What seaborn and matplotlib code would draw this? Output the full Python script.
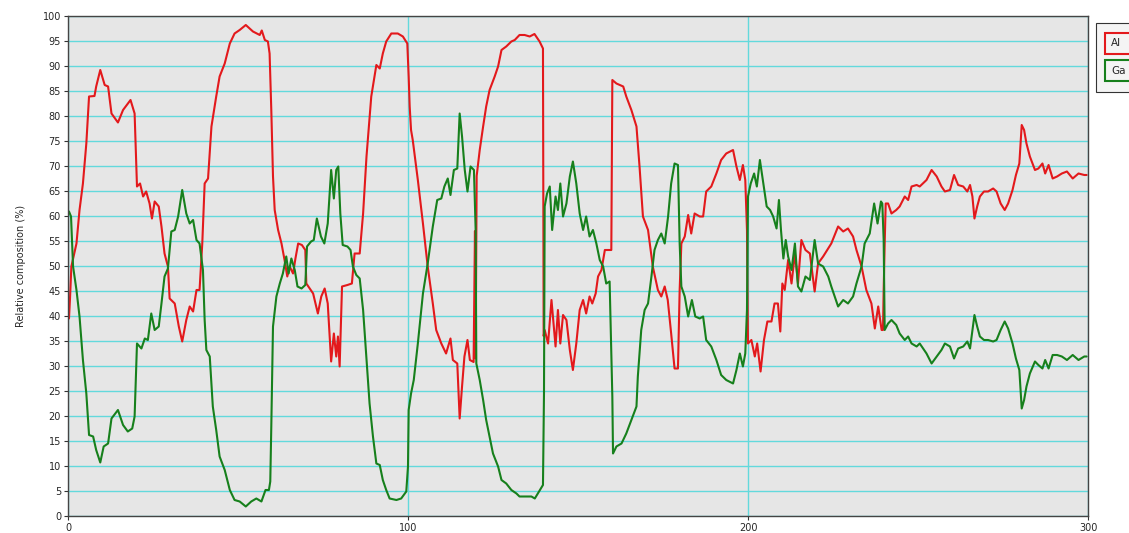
import numpy as np
import pandas as pd
import seaborn as sns
import matplotlib.pyplot as plt
from matplotlib.patches import Rectangle

# Al profile (red)
al_x = [0.3, 0.6, 1.0, 2.5, 3.4, 4.4, 5.4, 6.2, 7.8, 8.3, 9.5, 10.8, 11.8, 12.8, 14.7, 16.2, 18.4, 19.6,
        20.3, 21.2, 22.1, 23.0, 24.0, 24.7, 25.5, 26.7, 27.5, 28.4, 29.4, 29.9, 31.4, 32.6, 33.6, 34.8,
        35.8, 36.8, 37.8, 38.7, 39.5, 40.2, 41.2, 42.2, 43.6, 44.6, 46.1, 47.6, 49.0, 50.5, 52.3, 54.4,
        56.4, 57.0, 57.9, 58.8, 59.3, 59.8, 60.3, 60.8, 61.8, 62.8, 63.7, 64.5, 65.2, 66.2, 66.9, 67.7,
        68.8, 69.8, 70.1, 71.1, 72.1, 73.5, 74.5, 75.5, 76.4, 77.4, 78.2, 78.9, 79.4, 79.9, 80.6, 82.2,
        83.5, 84.3, 85.8, 86.8, 87.8, 89.2, 90.7, 91.7, 92.6, 93.6, 95.1, 97.0, 98.5, 99.8, 100.2, 100.5,
        100.9, 101.4, 102.9, 104.4, 105.8, 107.3, 108.3, 109.8, 111.2, 112.5, 113.2, 114.5, 115.2, 115.9,
        116.6, 117.5, 118.2, 119.3, 119.7, 119.9, 120.2, 121.1, 122.1, 123.0, 124.0, 125.5, 126.5, 127.5,
        128.9, 130.4, 131.4, 132.8, 134.3, 135.8, 137.2, 138.7, 139.7, 139.9, 140.2, 141.2, 142.2, 143.4,
        144.1, 144.8, 145.6, 146.6, 147.6, 148.5, 149.5, 150.5, 151.5, 152.4, 153.4, 154.2, 155.2, 155.9,
        156.9, 157.9, 159.8, 160.1, 161.3, 163.3, 164.2, 165.7, 167.2, 168.1, 169.1, 170.6, 172.0, 173.5,
        174.5, 175.5, 176.4, 177.4, 178.4, 179.4, 179.9, 180.4, 181.4, 182.4, 183.3, 184.3, 185.8, 186.8,
        187.7, 189.2, 190.7, 192.1, 193.6, 195.6, 196.6, 197.6, 198.5, 199.2, 199.7, 200.0, 201.0, 202.0,
        202.7, 203.7, 204.7, 205.7, 206.9, 207.8, 208.8, 209.5, 210.1, 210.8, 211.8, 212.8, 213.8, 214.7,
        215.7, 216.9, 218.2, 219.6, 220.6, 222.1, 223.6, 224.5, 226.5, 228.0, 229.4, 230.9, 231.9, 233.4,
        234.8, 236.3, 237.3, 238.3, 239.3, 239.7, 239.9, 240.2, 240.5, 241.2, 242.2, 243.6, 244.6, 246.1,
        247.1, 248.1, 249.6, 250.5, 252.5, 254.0, 255.5, 256.9, 257.9, 259.4, 260.6, 261.8, 263.3, 264.5,
        265.3, 266.0, 266.6, 267.4, 268.2, 269.4, 270.6, 272.1, 273.1, 274.3, 275.5, 276.5, 277.8, 278.8,
        279.8, 280.5, 281.2, 281.9, 282.9, 284.4, 285.4, 286.6, 287.4, 288.4, 289.6, 290.9, 292.3, 293.8,
        295.5, 297.2, 298.9, 299.6]
al_y = [39.5, 43.5, 49.9, 54.5, 61.2, 66.5, 74.5, 83.9, 84.0, 85.9, 89.2, 86.2, 85.9, 80.5, 78.7, 81.2, 83.2, 80.5,
        65.9, 66.5, 63.9, 64.9, 62.5, 59.5, 62.9, 61.9, 57.9, 52.5, 49.9, 43.5, 42.5, 37.9, 34.9, 39.2,
        41.9, 40.9, 45.2, 45.2, 54.5, 66.5, 67.5, 77.9, 83.9, 87.9, 90.5, 94.5, 96.5, 97.2, 98.2, 96.9,
        96.2, 97.1, 95.2, 94.9, 92.5, 81.2, 67.9, 61.2, 57.2, 54.5, 51.2, 47.9, 49.9, 48.5, 51.5, 54.5,
        54.2, 53.2, 46.5, 45.5, 44.5, 40.5, 43.9, 45.5, 42.5, 30.9, 36.5, 31.9, 35.9, 29.9, 45.9, 46.2,
        46.5, 52.5, 52.5, 60.5, 71.9, 83.9, 90.2, 89.5, 92.5, 94.9, 96.5, 96.5, 95.9, 94.5, 87.9, 81.9,
        77.2, 75.2, 67.2, 58.5, 49.9, 42.5, 37.2, 34.5, 32.5, 35.5, 31.2, 30.5, 19.5, 25.9,
        31.9, 35.2, 31.2, 30.8, 57.0, 31.5, 68.0, 73.2, 77.9, 81.9, 85.2, 87.9, 89.9, 93.2,
        93.9, 94.9, 95.2, 96.2, 96.2, 95.9, 96.4, 94.9, 93.5, 36.0, 37.2, 34.5, 43.2, 33.9,
        41.2, 34.5, 40.2, 39.2, 33.2, 29.2, 34.5, 41.2, 43.2, 40.5, 43.9, 42.5, 44.5, 47.9,
        49.2, 53.2, 53.2, 87.2, 86.5, 85.9, 83.9, 81.2, 77.9, 69.9, 59.9, 57.2, 49.9, 45.2,
        43.9, 45.9, 43.2, 36.5, 29.5, 29.5, 45.2, 54.5, 55.9, 60.2, 56.5, 60.5, 59.9, 59.9,
        64.9, 65.9, 68.5, 71.2, 72.5, 73.2, 69.9, 67.2, 70.2, 67.2, 57.2, 34.5, 35.2, 31.9,
        34.5, 28.9, 35.2, 38.9, 38.9, 42.5, 42.5, 36.9, 46.5, 45.2, 51.2, 46.5, 52.5, 46.5,
        55.2, 53.2, 52.5, 44.9, 50.5, 51.9, 53.5, 54.5, 57.9, 56.9, 57.5, 55.9, 53.2, 49.9,
        45.2, 42.5, 37.5, 41.9, 37.2, 37.2, 45.2, 54.5, 62.5, 62.5, 60.5, 61.2, 61.9, 63.9,
        63.2, 65.9, 66.2, 65.9, 67.2, 69.2, 67.9, 65.9, 64.9, 65.2, 68.2, 66.2, 65.9, 64.9,
        66.2, 63.9, 59.5, 61.9, 63.9, 64.9, 64.9, 65.5, 64.9, 62.5, 61.2, 62.5, 65.2, 68.2,
        70.5, 78.2, 77.2, 74.5, 71.9, 69.2, 69.5, 70.5, 68.5, 70.2, 67.5, 67.9, 68.5, 68.9,
        67.5, 68.5, 68.2, 68.2]

# Ga profile (green)
ga_x = [0.3, 0.9, 1.5, 2.5, 3.4, 4.4, 5.4, 6.2, 7.4, 8.3, 9.5, 10.5, 11.8, 12.8, 14.7, 16.2, 17.6, 18.9,
        19.6, 20.3, 21.6, 22.6, 23.5, 24.5, 25.5, 26.7, 27.5, 28.4, 29.4, 30.4, 31.4, 32.4, 33.6, 34.8,
        35.8, 36.8, 37.8, 38.7, 39.7, 40.2, 40.7, 41.7, 42.6, 43.6, 44.6, 46.1, 47.6, 49.0, 50.5, 52.3,
        53.9, 55.4, 56.9, 58.1, 59.1, 59.5, 59.8, 60.3, 61.3, 62.3, 63.2, 64.2, 64.9, 65.7, 66.7, 67.5,
        68.7, 69.8, 70.3, 71.5, 72.3, 73.2, 74.4, 75.4, 76.4, 77.4, 78.2, 78.9, 79.5, 80.1, 80.8, 82.2,
        83.1, 83.8, 84.8, 85.8, 86.8, 87.8, 88.7, 89.7, 90.7, 91.7, 92.6, 93.6, 94.6, 96.6, 98.0, 99.5,
        100.0, 100.2, 100.9, 101.7, 102.9, 104.4, 105.8, 107.3, 108.6, 109.8, 110.7, 111.7, 112.5, 113.5,
        114.5, 115.2, 115.9, 116.7, 117.5, 118.4, 119.4, 119.9, 120.1, 121.1, 122.1, 123.0, 124.0, 125.0,
        126.5, 127.5, 128.9, 130.4, 131.9, 132.8, 134.8, 136.3, 137.3, 138.8, 139.7, 140.0, 140.2, 140.9,
        141.7, 142.4, 143.4, 144.1, 144.8, 145.6, 146.6, 147.6, 148.5, 149.5, 150.5, 151.5, 152.4, 153.4,
        154.4, 155.4, 156.4, 157.4, 158.3, 159.3, 160.1, 160.3, 161.3, 162.8, 164.2, 165.7, 167.2, 167.6,
        168.6, 169.6, 170.6, 171.6, 172.5, 173.5, 174.5, 175.5, 176.5, 177.4, 178.4, 179.4, 179.9, 180.4,
        181.4, 182.4, 183.5, 184.5, 185.8, 186.8, 187.7, 189.2, 190.7, 192.1, 193.6, 195.6, 196.6, 197.6,
        198.5, 199.2, 199.7, 200.0, 200.8, 201.8, 202.6, 203.5, 204.5, 205.5, 206.5, 207.4, 208.4, 209.1,
        209.7, 210.4, 211.1, 211.8, 212.8, 213.8, 214.7, 215.7, 216.9, 218.2, 219.6, 220.6, 222.1, 223.6,
        224.5, 226.5, 228.0, 229.4, 230.9, 231.9, 233.4, 234.3, 235.8, 237.1, 238.1, 239.1, 239.5, 239.9,
        240.2, 241.2, 242.2, 243.6, 244.6, 246.1, 247.1, 248.1, 249.6, 250.5, 252.5, 254.0, 255.5, 256.9,
        257.9, 259.4, 260.6, 261.8, 263.3, 264.5, 265.3, 266.0, 266.6, 267.4, 268.2, 269.4, 270.6, 272.1,
        273.1, 274.3, 275.5, 276.5, 277.8, 278.8, 279.8, 280.5, 281.2, 281.9, 282.9, 284.4, 285.4, 286.6,
        287.4, 288.4, 289.6, 290.9, 292.3, 293.8, 295.5, 297.2, 298.9, 299.6]
ga_y = [60.9, 59.9, 49.9, 45.2, 39.9, 31.2, 24.5, 16.2, 15.9, 13.2, 10.7, 13.9, 14.5, 19.5, 21.2, 18.2, 16.9, 17.5,
        19.9, 34.5, 33.5, 35.5, 35.2, 40.5, 37.2, 37.9, 42.5, 47.9, 49.5, 56.9, 57.2, 59.9, 65.2, 60.5,
        58.5, 59.2, 55.2, 54.5, 49.2, 39.2, 33.2, 31.9, 21.9, 17.2, 11.9, 9.2, 5.2, 3.2, 2.9, 1.9,
        2.9, 3.5, 2.9, 5.2, 5.2, 6.9, 17.9, 37.9, 43.9, 46.5, 48.5, 51.9, 48.5, 51.5, 49.2, 45.9,
        45.5, 46.2, 53.9, 54.9, 55.2, 59.5, 55.9, 54.5, 58.5, 69.2, 63.5, 69.2, 69.9, 60.5, 54.2, 53.9,
        53.2, 49.9, 48.2, 47.5, 41.2, 31.2, 22.5, 15.9, 10.5, 10.2, 7.2, 5.2, 3.5, 3.2, 3.5, 4.9,
        9.9, 21.2, 24.5, 27.2, 34.5, 44.5, 50.5, 57.9, 63.2, 63.5, 65.9, 67.5, 64.2, 69.2,
        69.5, 80.5, 75.9, 69.2, 64.9, 69.9, 69.2, 57.2, 30.5, 27.2, 23.2, 19.2, 15.9, 12.5,
        9.9, 7.2, 6.5, 5.2, 4.5, 3.9, 3.9, 3.9, 3.5, 5.2, 6.2, 24.5, 61.9, 64.5,
        65.9, 57.2, 63.9, 61.2, 66.5, 59.9, 62.5, 67.9, 70.9, 66.5, 60.5, 57.2, 59.9, 55.9,
        57.2, 54.5, 51.2, 49.9, 46.5, 46.9, 23.9, 12.5, 13.9, 14.5, 16.5, 19.2, 21.9, 27.9,
        37.2, 41.2, 42.5, 47.9, 53.2, 55.2, 56.5, 54.5, 59.9, 66.5, 70.5, 70.2, 54.5, 45.9,
        43.9, 39.9, 43.2, 39.9, 39.5, 39.9, 35.2, 33.9, 31.2, 28.2, 27.2, 26.5, 29.2, 32.5,
        29.9, 32.5, 41.2, 63.9, 66.5, 68.5, 65.9, 71.2, 66.5, 61.9, 61.2, 59.9, 57.5, 63.2,
        57.2, 51.5, 55.2, 51.9, 49.2, 54.5, 45.9, 44.9, 47.9, 47.2, 55.2, 50.5, 49.9, 47.9,
        45.9, 41.9, 43.2, 42.5, 43.9, 46.5, 49.9, 54.5, 56.5, 62.5, 58.5, 62.9, 62.5, 55.2,
        37.2, 38.5, 39.2, 38.2, 36.5, 35.2, 35.9, 34.5, 33.9, 34.5, 32.5, 30.5, 31.9, 33.2,
        34.5, 33.9, 31.5, 33.5, 33.9, 34.9, 33.5, 37.2, 40.2, 37.9, 35.9, 35.2, 35.2, 34.9,
        35.2, 37.2, 38.9, 37.5, 34.5, 31.5, 29.2, 21.5, 23.2, 25.9, 28.5, 30.9, 30.2, 29.5,
        31.2, 29.5, 32.2, 32.2, 31.9, 31.2, 32.2, 31.2, 31.9, 31.9]

x_ticks = [0, 100, 200, 300]
y_ticks = list(range(0, 101, 5))

df = pd.concat([
    pd.DataFrame({'pos': al_x, 'comp': al_y, 'element': 'Al'}),
    pd.DataFrame({'pos': ga_x, 'comp': ga_y, 'element': 'Ga'}),
])

sns.set_style('white')
plt.rcParams['font.family'] = ['DejaVu Sans']

fig = plt.figure(figsize=(11.29, 5.33), dpi=100)
ax = fig.add_axes([0.0602, 0.0319, 0.9035, 0.9381])
ax.set_facecolor('#e6e6e6')

sns.lineplot(data=df, x='pos', y='comp', hue='element', estimator=None, sort=False,
             palette={'Al': '#e3191c', 'Ga': '#17801c'}, linewidth=1.5, legend=False, ax=ax)

ax.set_xlim(0, 300)
ax.set_ylim(0, 100)
ax.set_xticks(x_ticks)
ax.set_yticks(y_ticks)
ax.grid(True, color='#63d9dc', linewidth=1.0)
ax.set_axisbelow(True)
ax.tick_params(axis='both', labelsize=7, length=3, width=0.8, color='#333333', pad=2)
ax.tick_params(axis='y', left=True)
ax.tick_params(axis='x', bottom=True)
ax.set_xlabel('')
ax.set_ylabel('Relative composition (%)', fontsize=7, labelpad=12)
for s in ax.spines.values():
    s.set_color('#444444')
    s.set_linewidth(1.0)

# legend: outlined boxes at the right edge
fig.add_artist(Rectangle((1096 / 1129, 1 - 92 / 533), 0.05, 69 / 533, transform=fig.transFigure,
                         facecolor='#f4f4f4', edgecolor='#333333', linewidth=0.8))
for lab, col, ytop in [('Al', '#e3191c', 33), ('Ga', '#17801c', 60)]:
    fig.add_artist(Rectangle((1105 / 1129, 1 - (ytop + 21) / 533), 0.04, 21 / 533,
                             transform=fig.transFigure, facecolor='#f4f4f4', edgecolor=col,
                             linewidth=1.5))
    fig.text(1111 / 1129, 1 - (ytop + 10.5) / 533, lab, fontsize=7.5, va='center', ha='left')

fig.savefig('out.png', dpi=100)
